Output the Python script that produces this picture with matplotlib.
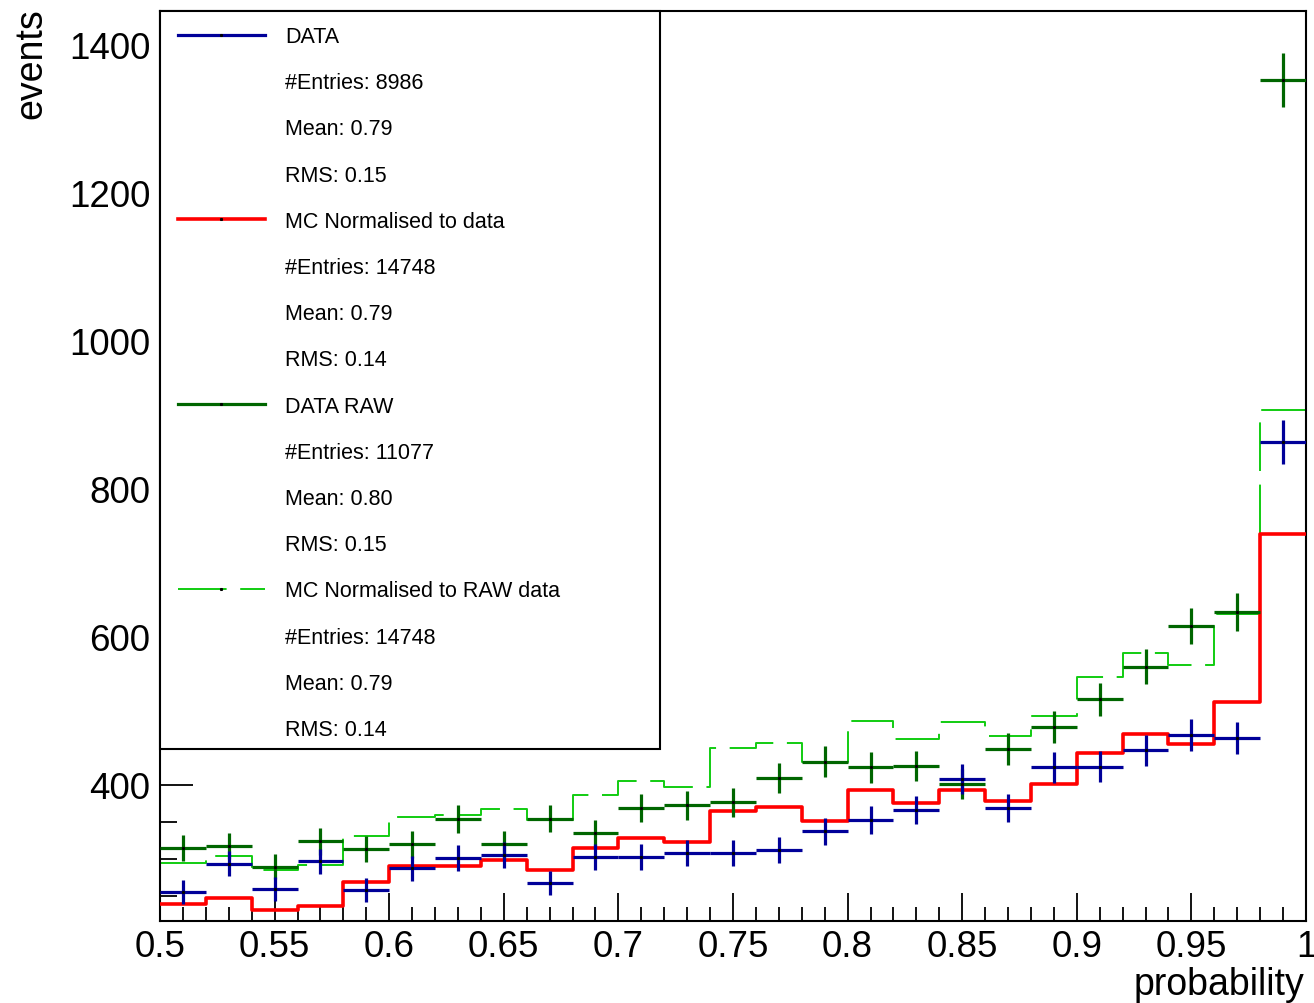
import numpy as np
import matplotlib.pyplot as plt
from matplotlib.lines import Line2D
from matplotlib.patches import Rectangle
from matplotlib.ticker import MultipleLocator, FuncFormatter

plt.rcParams['font.family'] = ['Liberation Sans', 'DejaVu Sans']

# 25 bins of width 0.02 between 0.5 and 1
edges = np.linspace(0.5, 1.0, 26)
data = [255, 293, 259, 296, 257, 287, 301, 305, 267, 302, 302, 308, 308,
        312, 337, 352, 366, 407, 368, 423, 424, 446, 467, 463, 863]
data_raw = [314, 317, 289, 323, 313, 319, 353, 319, 354, 334, 368, 372, 376,
            409, 431, 423, 425, 401, 448, 478, 515, 559, 614, 633, 1352]
mc_norm = [238, 247, 230, 236, 268, 290, 290, 298, 284, 314, 328, 322, 364,
           370, 351, 393, 375, 392, 378, 401, 443, 468, 455, 511, 738]
mc_norm_raw = [294, 304, 284, 291, 331, 356, 359, 367, 352, 386, 405, 397, 449,
               456, 431, 486, 461, 485, 466, 493, 545, 577, 561, 631, 906]

legend_rows = [
    ("DATA", "blue"),
    ("#Entries: 8986", None), ("Mean: 0.79", None), ("RMS: 0.15", None),
    ("MC Normalised to data", "red"),
    ("#Entries: 14748", None), ("Mean: 0.79", None), ("RMS: 0.14", None),
    ("DATA RAW", "dgreen"),
    ("#Entries: 11077", None), ("Mean: 0.80", None), ("RMS: 0.15", None),
    ("MC Normalised to RAW data", "lgreen"),
    ("#Entries: 14748", None), ("Mean: 0.79", None), ("RMS: 0.14", None),
]

BLUE = '#000099'
DGREEN = '#006600'
LGREEN = '#11cc11'
RED = '#ff0000'

W, H = 1314, 1004
fig = plt.figure(figsize=(W / 100, H / 100), dpi=100)
ax = fig.add_axes([160 / W, 1 - 921.7 / H, 1146 / W, 909.7 / H])

centers = 0.5 * (edges[:-1] + edges[1:])
half = 0.5 * np.diff(edges)


def step_line(vals, **kw):
    y = np.append(vals, vals[-1])
    ax.step(edges, y, where='post', **kw)


step_line(mc_norm_raw, color=LGREEN, lw=1.4, dashes=(25, 7), zorder=2)
step_line(mc_norm, color=RED, lw=2.6, zorder=3)

for vals, col in [(data_raw, DGREEN), (data, BLUE)]:
    vals = np.array(vals, dtype=float)
    ax.errorbar(centers, vals, xerr=half, yerr=np.sqrt(vals), fmt='none',
                ecolor=col, elinewidth=2.3, capsize=0, zorder=4)
    ax.plot(centers, vals, ls='none', marker='s', ms=1.2, color='black', zorder=5)

ax.set_xlim(0.5, 1.0)
ax.set_ylim(216, 1445)

ax.xaxis.set_major_locator(MultipleLocator(0.05))
ax.xaxis.set_minor_locator(MultipleLocator(0.01))
ax.yaxis.set_major_locator(MultipleLocator(200))
ax.yaxis.set_minor_locator(MultipleLocator(50))
ax.xaxis.set_major_formatter(FuncFormatter(lambda v, p: '%g' % round(v, 3)))
ax.yaxis.set_major_formatter(FuncFormatter(lambda v, p: '%d' % v))

ax.tick_params(axis='x', which='major', direction='in', length=20, width=1.3,
               top=False, pad=6, labelsize=26.5)
ax.tick_params(axis='x', which='minor', direction='in', length=10, width=1.3, top=False)
ax.tick_params(axis='y', which='major', direction='in', length=24, width=1.3,
               right=False, pad=7, labelsize=26.5)
ax.tick_params(axis='y', which='minor', direction='in', length=12, width=1.3, right=False)
for sp in ax.spines.values():
    sp.set_linewidth(1.5)

fig.text(31 / W, 1 - 8 / H, 'events', rotation=90, ha='center', va='top', fontsize=27)
fig.text(1304 / W, 1 - 995 / H, 'probability', ha='right', va='baseline', fontsize=27)

# stats box drawn on top of the frame
fig.add_artist(Rectangle((160 / W, 1 - 750 / H), 500 / W, 738 / H,
                         transform=fig.transFigure, fc='white', ec='black',
                         lw=1.5, zorder=5))
styles = {
    'blue': dict(color=BLUE, lw=2.3),
    'red': dict(color=RED, lw=2.6),
    'dgreen': dict(color=DGREEN, lw=2.3),
    'lgreen': dict(color=LGREEN, lw=1.4, dashes=(25, 7)),
}
for i, (label, key) in enumerate(legend_rows):
    yc = 35.5 + i * 46.2
    fig.text(285 / W, 1 - (yc + 7.5) / H, label, ha='left', va='baseline',
             fontsize=15.5, zorder=6)
    if key:
        fig.add_artist(Line2D([178 / W, 265 / W], [1 - yc / H, 1 - yc / H],
                              transform=fig.transFigure, zorder=6, **styles[key]))
        fig.add_artist(Line2D([221 / W], [1 - yc / H], marker='s', ms=1.2,
                              color='black', ls='none',
                              transform=fig.transFigure, zorder=7))

fig.savefig('out.png', dpi=100)
